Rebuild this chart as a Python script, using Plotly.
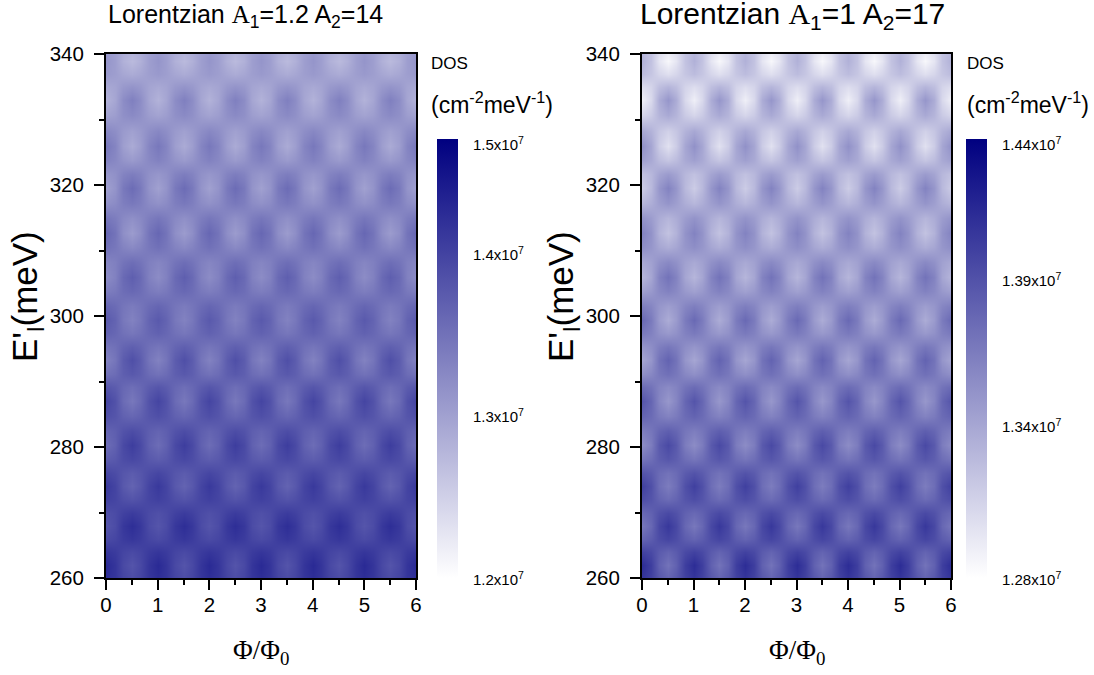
import plotly.graph_objects as go

W, H = 1094, 675
phi = [0, .167, .333, .5, .667, .833, 1, 1.167, 1.333, 1.5, 1.667, 1.833, 2, 2.167, 2.333, 2.5, 2.667, 2.833, 3,
       3.167, 3.333, 3.5, 3.667, 3.833, 4, 4.167, 4.333, 4.5, 4.667, 4.833, 5, 5.167, 5.333, 5.5, 5.667, 5.833, 6]
energy = [260, 262, 264, 266, 268, 270, 272, 274, 276.1, 278.2, 280.3, 282.5, 284.8, 287, 289.1, 291.2, 293.3,
          295.3, 297.4, 299.4, 301.6, 303.8, 306, 308.2, 310.5, 312.7, 315, 317.2, 319.5, 321.7, 323.8, 326,
          328.3, 330.7, 333, 335, 337, 339, 340]

# DOS, in units of 1e4 cm-2 meV-1, one row per energy (bottom to top)
dos_left = [
[1446,1437,1419,1410,1419,1437,1446,1437,1419,1410,1419,1437,1446,1437,1419,1410,1419,1437,1446,1437,1419,1410,1419,1437,1446,1437,1419,1410,1419,1437,1446,1437,1419,1410,1419,1437,1446],
[1451,1438,1414,1401,1414,1438,1451,1438,1414,1401,1414,1438,1451,1438,1414,1401,1414,1438,1451,1438,1414,1401,1414,1438,1451,1438,1414,1401,1414,1438,1451,1438,1414,1401,1414,1438,1451],
[1437,1431,1419,1413,1419,1431,1437,1431,1419,1413,1419,1431,1437,1431,1419,1413,1419,1431,1437,1431,1419,1413,1419,1431,1437,1431,1419,1413,1419,1431,1437,1431,1419,1413,1419,1431,1437],
[1412,1418,1430,1436,1430,1418,1412,1418,1430,1436,1430,1418,1412,1418,1430,1436,1430,1418,1412,1418,1430,1436,1430,1418,1412,1418,1430,1436,1430,1418,1412,1418,1430,1436,1430,1418,1412],
[1400,1411,1435,1446,1435,1411,1400,1411,1435,1446,1435,1411,1400,1411,1435,1446,1435,1411,1400,1411,1435,1446,1435,1411,1400,1411,1435,1446,1435,1411,1400,1411,1435,1446,1435,1411,1400],
[1406,1412,1424,1430,1424,1412,1406,1412,1424,1430,1424,1412,1406,1412,1424,1430,1424,1412,1406,1412,1424,1430,1424,1412,1406,1412,1424,1430,1424,1412,1406,1412,1424,1430,1424,1412,1406],
[1425,1419,1407,1401,1407,1419,1425,1419,1407,1401,1407,1419,1425,1419,1407,1401,1407,1419,1425,1419,1407,1401,1407,1419,1425,1419,1407,1401,1407,1419,1425,1419,1407,1401,1407,1419,1425],
[1433,1420,1396,1383,1396,1420,1433,1420,1396,1383,1396,1420,1433,1420,1396,1383,1396,1420,1433,1420,1396,1383,1396,1420,1433,1420,1396,1383,1396,1420,1433,1420,1396,1383,1396,1420,1433],
[1418,1411,1399,1392,1399,1411,1418,1411,1399,1392,1399,1411,1418,1411,1399,1392,1399,1411,1418,1411,1399,1392,1399,1411,1418,1411,1399,1392,1399,1411,1418,1411,1399,1392,1399,1411,1418],
[1390,1396,1410,1416,1410,1396,1390,1396,1410,1416,1410,1396,1390,1396,1410,1416,1410,1396,1390,1396,1410,1416,1410,1396,1390,1396,1410,1416,1410,1396,1390,1396,1410,1416,1410,1396,1390],
[1372,1386,1414,1428,1414,1386,1372,1386,1414,1428,1414,1386,1372,1386,1414,1428,1414,1386,1372,1386,1414,1428,1414,1386,1372,1386,1414,1428,1414,1386,1372,1386,1414,1428,1414,1386,1372],
[1382,1389,1403,1410,1403,1389,1382,1389,1403,1410,1403,1389,1382,1389,1403,1410,1403,1389,1382,1389,1403,1410,1403,1389,1382,1389,1403,1410,1403,1389,1382,1389,1403,1410,1403,1389,1382],
[1407,1400,1386,1379,1386,1400,1407,1400,1386,1379,1386,1400,1407,1400,1386,1379,1386,1400,1407,1400,1386,1379,1386,1400,1407,1400,1386,1379,1386,1400,1407,1400,1386,1379,1386,1400,1407],
[1419,1404,1374,1359,1374,1404,1419,1404,1374,1359,1374,1404,1419,1404,1374,1359,1374,1404,1419,1404,1374,1359,1374,1404,1419,1404,1374,1359,1374,1404,1419,1404,1374,1359,1374,1404,1419],
[1400,1392,1378,1370,1378,1392,1400,1392,1378,1370,1378,1392,1400,1392,1378,1370,1378,1392,1400,1392,1378,1370,1378,1392,1400,1392,1378,1370,1378,1392,1400,1392,1378,1370,1378,1392,1400],
[1366,1373,1389,1396,1389,1373,1366,1373,1389,1396,1389,1373,1366,1373,1389,1396,1389,1373,1366,1373,1389,1396,1389,1373,1366,1373,1389,1396,1389,1373,1366,1373,1389,1396,1389,1373,1366],
[1347,1362,1392,1407,1392,1362,1347,1362,1392,1407,1392,1362,1347,1362,1392,1407,1392,1362,1347,1362,1392,1407,1392,1362,1347,1362,1392,1407,1392,1362,1347,1362,1392,1407,1392,1362,1347],
[1361,1368,1382,1389,1382,1368,1361,1368,1382,1389,1382,1368,1361,1368,1382,1389,1382,1368,1361,1368,1382,1389,1382,1368,1361,1368,1382,1389,1382,1368,1361,1368,1382,1389,1382,1368,1361],
[1386,1379,1367,1360,1367,1379,1386,1379,1367,1360,1367,1379,1386,1379,1367,1360,1367,1379,1386,1379,1367,1360,1367,1379,1386,1379,1367,1360,1367,1379,1386,1379,1367,1360,1367,1379,1386],
[1395,1383,1359,1347,1359,1383,1395,1383,1359,1347,1359,1383,1395,1383,1359,1347,1359,1383,1395,1383,1359,1347,1359,1383,1395,1383,1359,1347,1359,1383,1395,1383,1359,1347,1359,1383,1395],
[1381,1374,1362,1355,1362,1374,1381,1374,1362,1355,1362,1374,1381,1374,1362,1355,1362,1374,1381,1374,1362,1355,1362,1374,1381,1374,1362,1355,1362,1374,1381,1374,1362,1355,1362,1374,1381],
[1352,1358,1372,1378,1372,1358,1352,1358,1372,1378,1372,1358,1352,1358,1372,1378,1372,1358,1352,1358,1372,1378,1372,1358,1352,1358,1372,1378,1372,1358,1352,1358,1372,1378,1372,1358,1352],
[1335,1348,1376,1389,1376,1348,1335,1348,1376,1389,1376,1348,1335,1348,1376,1389,1376,1348,1335,1348,1376,1389,1376,1348,1335,1348,1376,1389,1376,1348,1335,1348,1376,1389,1376,1348,1335],
[1343,1350,1364,1371,1364,1350,1343,1350,1364,1371,1364,1350,1343,1350,1364,1371,1364,1350,1343,1350,1364,1371,1364,1350,1343,1350,1364,1371,1364,1350,1343,1350,1364,1371,1364,1350,1343],
[1368,1360,1346,1338,1346,1360,1368,1360,1346,1338,1346,1360,1368,1360,1346,1338,1346,1360,1368,1360,1346,1338,1346,1360,1368,1360,1346,1338,1346,1360,1368,1360,1346,1338,1346,1360,1368],
[1379,1364,1332,1317,1332,1364,1379,1364,1332,1317,1332,1364,1379,1364,1332,1317,1332,1364,1379,1364,1332,1317,1332,1364,1379,1364,1332,1317,1332,1364,1379,1364,1332,1317,1332,1364,1379],
[1361,1353,1339,1331,1339,1353,1361,1353,1339,1331,1339,1353,1361,1353,1339,1331,1339,1353,1361,1353,1339,1331,1339,1353,1361,1353,1339,1331,1339,1353,1361,1353,1339,1331,1339,1353,1361],
[1329,1336,1352,1359,1352,1336,1329,1336,1352,1359,1352,1336,1329,1336,1352,1359,1352,1336,1329,1336,1352,1359,1352,1336,1329,1336,1352,1359,1352,1336,1329,1336,1352,1359,1352,1336,1329],
[1311,1326,1358,1373,1358,1326,1311,1326,1358,1373,1358,1326,1311,1326,1358,1373,1358,1326,1311,1326,1358,1373,1358,1326,1311,1326,1358,1373,1358,1326,1311,1326,1358,1373,1358,1326,1311],
[1323,1330,1346,1353,1346,1330,1323,1330,1346,1353,1346,1330,1323,1330,1346,1353,1346,1330,1323,1330,1346,1353,1346,1330,1323,1330,1346,1353,1346,1330,1323,1330,1346,1353,1346,1330,1323],
[1348,1340,1326,1318,1326,1340,1348,1340,1326,1318,1326,1340,1348,1340,1326,1318,1326,1340,1348,1340,1326,1318,1326,1340,1348,1340,1326,1318,1326,1340,1348,1340,1326,1318,1326,1340,1348],
[1359,1344,1314,1299,1314,1344,1359,1344,1314,1299,1314,1344,1359,1344,1314,1299,1314,1344,1359,1344,1314,1299,1314,1344,1359,1344,1314,1299,1314,1344,1359,1344,1314,1299,1314,1344,1359],
[1341,1333,1319,1311,1319,1333,1341,1333,1319,1311,1319,1333,1341,1333,1319,1311,1319,1333,1341,1333,1319,1311,1319,1333,1341,1333,1319,1311,1319,1333,1341,1333,1319,1311,1319,1333,1341],
[1308,1315,1331,1338,1331,1315,1308,1315,1331,1338,1331,1315,1308,1315,1331,1338,1331,1315,1308,1315,1331,1338,1331,1315,1308,1315,1331,1338,1331,1315,1308,1315,1331,1338,1331,1315,1308],
[1290,1305,1335,1350,1335,1305,1290,1305,1335,1350,1335,1305,1290,1305,1335,1350,1335,1305,1290,1305,1335,1350,1335,1305,1290,1305,1335,1350,1335,1305,1290,1305,1335,1350,1335,1305,1290],
[1301,1307,1321,1327,1321,1307,1301,1307,1321,1327,1321,1307,1301,1307,1321,1327,1321,1307,1301,1307,1321,1327,1321,1307,1301,1307,1321,1327,1321,1307,1301,1307,1321,1327,1321,1307,1301],
[1320,1314,1304,1298,1304,1314,1320,1314,1304,1298,1304,1314,1320,1314,1304,1298,1304,1314,1320,1314,1304,1298,1304,1314,1320,1314,1304,1298,1304,1314,1320,1314,1304,1298,1304,1314,1320],
[1325,1314,1292,1281,1292,1314,1325,1314,1292,1281,1292,1314,1325,1314,1292,1281,1292,1314,1325,1314,1292,1281,1292,1314,1325,1314,1292,1281,1292,1314,1325,1314,1292,1281,1292,1314,1325],
[1322,1313,1297,1288,1297,1313,1322,1313,1297,1288,1297,1313,1322,1313,1297,1288,1297,1313,1322,1313,1297,1288,1297,1313,1322,1313,1297,1288,1297,1313,1322,1313,1297,1288,1297,1313,1322],
]
dos_right = [
[1407,1399,1385,1377,1385,1399,1407,1399,1385,1377,1385,1399,1407,1399,1385,1377,1385,1399,1407,1399,1385,1377,1385,1399,1407,1399,1385,1377,1385,1399,1407,1399,1385,1377,1385,1399,1407],
[1412,1401,1379,1368,1379,1401,1412,1401,1379,1368,1379,1401,1412,1401,1379,1368,1379,1401,1412,1401,1379,1368,1379,1401,1412,1401,1379,1368,1379,1401,1412,1401,1379,1368,1379,1401,1412],
[1399,1394,1383,1377,1383,1394,1399,1394,1383,1377,1383,1394,1399,1394,1383,1377,1383,1394,1399,1394,1383,1377,1383,1394,1399,1394,1383,1377,1383,1394,1399,1394,1383,1377,1383,1394,1399],
[1377,1382,1392,1397,1392,1382,1377,1382,1392,1397,1392,1382,1377,1382,1392,1397,1392,1382,1377,1382,1392,1397,1392,1382,1377,1382,1392,1397,1392,1382,1377,1382,1392,1397,1392,1382,1377],
[1365,1375,1395,1405,1395,1375,1365,1375,1395,1405,1395,1375,1365,1375,1395,1405,1395,1375,1365,1375,1395,1405,1395,1375,1365,1375,1395,1405,1395,1375,1365,1375,1395,1405,1395,1375,1365],
[1374,1379,1389,1394,1389,1379,1374,1379,1389,1394,1389,1379,1374,1379,1389,1394,1389,1379,1374,1379,1389,1394,1389,1379,1374,1379,1389,1394,1389,1379,1374,1379,1389,1394,1389,1379,1374],
[1392,1387,1377,1372,1377,1387,1392,1387,1377,1372,1377,1387,1392,1387,1377,1372,1377,1387,1392,1387,1377,1372,1377,1387,1392,1387,1377,1372,1377,1387,1392,1387,1377,1372,1377,1387,1392],
[1400,1390,1371,1362,1371,1390,1400,1390,1371,1362,1371,1390,1400,1390,1371,1362,1371,1390,1400,1390,1371,1362,1371,1390,1400,1390,1371,1362,1371,1390,1400,1390,1371,1362,1371,1390,1400],
[1388,1383,1373,1368,1373,1383,1388,1383,1373,1368,1373,1383,1388,1383,1373,1368,1373,1383,1388,1383,1373,1368,1373,1383,1388,1383,1373,1368,1373,1383,1388,1383,1373,1368,1373,1383,1388],
[1366,1371,1381,1386,1381,1371,1366,1371,1381,1386,1381,1371,1366,1371,1381,1386,1381,1371,1366,1371,1381,1386,1381,1371,1366,1371,1381,1386,1381,1371,1366,1371,1381,1386,1381,1371,1366],
[1352,1362,1384,1394,1384,1362,1352,1362,1384,1394,1384,1362,1352,1362,1384,1394,1384,1362,1352,1362,1384,1394,1384,1362,1352,1362,1384,1394,1384,1362,1352,1362,1384,1394,1384,1362,1352],
[1361,1366,1376,1381,1376,1366,1361,1366,1376,1381,1376,1366,1361,1366,1376,1381,1376,1366,1361,1366,1376,1381,1376,1366,1361,1366,1376,1381,1376,1366,1361,1366,1376,1381,1376,1366,1361],
[1378,1373,1363,1358,1363,1373,1378,1373,1363,1358,1363,1373,1378,1373,1363,1358,1363,1373,1378,1373,1363,1358,1363,1373,1378,1373,1363,1358,1363,1373,1378,1373,1363,1358,1363,1373,1378],
[1387,1376,1356,1345,1356,1376,1387,1376,1356,1345,1356,1376,1387,1376,1356,1345,1356,1376,1387,1376,1356,1345,1356,1376,1387,1376,1356,1345,1356,1376,1387,1376,1356,1345,1356,1376,1387],
[1373,1368,1358,1353,1358,1368,1373,1368,1358,1353,1358,1368,1373,1368,1358,1353,1358,1368,1373,1368,1358,1353,1358,1368,1373,1368,1358,1353,1358,1368,1373,1368,1358,1353,1358,1368,1373],
[1350,1355,1365,1370,1365,1355,1350,1355,1365,1370,1365,1355,1350,1355,1365,1370,1365,1355,1350,1355,1365,1370,1365,1355,1350,1355,1365,1370,1365,1355,1350,1355,1365,1370,1365,1355,1350],
[1336,1346,1368,1378,1368,1346,1336,1346,1368,1378,1368,1346,1336,1346,1368,1378,1368,1346,1336,1346,1368,1378,1368,1346,1336,1346,1368,1378,1368,1346,1336,1346,1368,1378,1368,1346,1336],
[1346,1351,1361,1366,1361,1351,1346,1351,1361,1366,1361,1351,1346,1351,1361,1366,1361,1351,1346,1351,1361,1366,1361,1351,1346,1351,1361,1366,1361,1351,1346,1351,1361,1366,1361,1351,1346],
[1364,1359,1349,1344,1349,1359,1364,1359,1349,1344,1349,1359,1364,1359,1349,1344,1349,1359,1364,1359,1349,1344,1349,1359,1364,1359,1349,1344,1349,1359,1364,1359,1349,1344,1349,1359,1364],
[1374,1363,1343,1332,1343,1363,1374,1363,1343,1332,1343,1363,1374,1363,1343,1332,1343,1363,1374,1363,1343,1332,1343,1363,1374,1363,1343,1332,1343,1363,1374,1363,1343,1332,1343,1363,1374],
[1361,1356,1346,1341,1346,1356,1361,1356,1346,1341,1346,1356,1361,1356,1346,1341,1346,1356,1361,1356,1346,1341,1346,1356,1361,1356,1346,1341,1346,1356,1361,1356,1346,1341,1346,1356,1361],
[1339,1344,1354,1359,1354,1344,1339,1344,1354,1359,1354,1344,1339,1344,1354,1359,1354,1344,1339,1344,1354,1359,1354,1344,1339,1344,1354,1359,1354,1344,1339,1344,1354,1359,1354,1344,1339],
[1326,1336,1358,1368,1358,1336,1326,1336,1358,1368,1358,1336,1326,1336,1358,1368,1358,1336,1326,1336,1358,1368,1358,1336,1326,1336,1358,1368,1358,1336,1326,1336,1358,1368,1358,1336,1326],
[1334,1339,1349,1354,1349,1339,1334,1339,1349,1354,1349,1339,1334,1339,1349,1354,1349,1339,1334,1339,1349,1354,1349,1339,1334,1339,1349,1354,1349,1339,1334,1339,1349,1354,1349,1339,1334],
[1351,1346,1336,1331,1336,1346,1351,1346,1336,1331,1336,1346,1351,1346,1336,1331,1336,1346,1351,1346,1336,1331,1336,1346,1351,1346,1336,1331,1336,1346,1351,1346,1336,1331,1336,1346,1351],
[1358,1348,1328,1318,1328,1348,1358,1348,1328,1318,1328,1348,1358,1348,1328,1318,1328,1348,1358,1348,1328,1318,1328,1348,1358,1348,1328,1318,1328,1348,1358,1348,1328,1318,1328,1348,1358],
[1348,1342,1332,1326,1332,1342,1348,1342,1332,1326,1332,1342,1348,1342,1332,1326,1332,1342,1348,1342,1332,1326,1332,1342,1348,1342,1332,1326,1332,1342,1348,1342,1332,1326,1332,1342,1348],
[1325,1331,1341,1347,1341,1331,1325,1331,1341,1347,1341,1331,1325,1331,1341,1347,1341,1331,1325,1331,1341,1347,1341,1331,1325,1331,1341,1347,1341,1331,1325,1331,1341,1347,1341,1331,1325],
[1312,1324,1346,1358,1346,1324,1312,1324,1346,1358,1346,1324,1312,1324,1346,1358,1346,1324,1312,1324,1346,1358,1346,1324,1312,1324,1346,1358,1346,1324,1312,1324,1346,1358,1346,1324,1312],
[1319,1325,1337,1343,1337,1325,1319,1325,1337,1343,1337,1325,1319,1325,1337,1343,1337,1325,1319,1325,1337,1343,1337,1325,1319,1325,1337,1343,1337,1325,1319,1325,1337,1343,1337,1325,1319],
[1340,1334,1322,1316,1322,1334,1340,1334,1322,1316,1322,1334,1340,1334,1322,1316,1322,1334,1340,1334,1322,1316,1322,1334,1340,1334,1322,1316,1322,1334,1340,1334,1322,1316,1322,1334,1340],
[1349,1336,1312,1299,1312,1336,1349,1336,1312,1299,1312,1336,1349,1336,1312,1299,1312,1336,1349,1336,1312,1299,1312,1336,1349,1336,1312,1299,1312,1336,1349,1336,1312,1299,1312,1336,1349],
[1335,1328,1316,1309,1316,1328,1335,1328,1316,1309,1316,1328,1335,1328,1316,1309,1316,1328,1335,1328,1316,1309,1316,1328,1335,1328,1316,1309,1316,1328,1335,1328,1316,1309,1316,1328,1335],
[1306,1313,1327,1334,1327,1313,1306,1313,1327,1334,1327,1313,1306,1313,1327,1334,1327,1313,1306,1313,1327,1334,1327,1313,1306,1313,1327,1334,1327,1313,1306,1313,1327,1334,1327,1313,1306],
[1290,1304,1332,1346,1332,1304,1290,1304,1332,1346,1332,1304,1290,1304,1332,1346,1332,1304,1290,1304,1332,1346,1332,1304,1290,1304,1332,1346,1332,1304,1290,1304,1332,1346,1332,1304,1290],
[1301,1307,1321,1327,1321,1307,1301,1307,1321,1327,1321,1307,1301,1307,1321,1327,1321,1307,1301,1307,1321,1327,1321,1307,1301,1307,1321,1327,1321,1307,1301,1307,1321,1327,1321,1307,1301],
[1322,1316,1306,1300,1306,1316,1322,1316,1306,1300,1306,1316,1322,1316,1306,1300,1306,1316,1322,1316,1306,1300,1306,1316,1322,1316,1306,1300,1306,1316,1322,1316,1306,1300,1306,1316,1322],
[1329,1318,1296,1285,1296,1318,1329,1318,1296,1285,1296,1318,1329,1318,1296,1285,1296,1318,1329,1318,1296,1285,1296,1318,1329,1318,1296,1285,1296,1318,1329,1318,1296,1285,1296,1318,1329],
[1327,1318,1300,1291,1300,1318,1327,1318,1300,1291,1300,1318,1327,1318,1300,1291,1300,1318,1327,1318,1300,1291,1300,1318,1327,1318,1300,1291,1300,1318,1327,1318,1300,1291,1300,1318,1327],
]
range_left = [1200, 1500]
range_right = [1280, 1440]
bar_labels_left = ["1.5", "1.4", "1.3", "1.2"]
bar_labels_right = ["1.44", "1.39", "1.34", "1.28"]
bar_label_py_left = [143, 253, 415, 578]
bar_label_py_right = [143, 279, 426, 578]
titles = ["Lorentzian <span style='font-family:Liberation Serif'>A</span><sub>1</sub>=1.2 A<sub>2</sub>=14",
          "Lorentzian <span style='font-family:Liberation Serif'>A</span><sub>1</sub>=1 A<sub>2</sub>=17"]
title_sizes = [25, 30]

SANS = "Liberation Sans"
SERIF = "Liberation Serif"
scale = [[0, "#ffffff"], [1, "#000080"]]
panels = [
    dict(x0=106, x1=416, bar=437, text=429, lab=471, z=dos_left, r=range_left, lb=bar_labels_left, py=bar_label_py_left, tx=246, xt=261, yt=27),
    dict(x0=642, x1=951, bar=966, text=965, lab=1000, z=dos_right, r=range_right, lb=bar_labels_right, py=bar_label_py_right, tx=792, xt=797, yt=563),
]

def px(v):
    return v / W
def py(v):
    return 1 - v / H

fig = go.Figure()
ann = []
def note(text, x, y, size, family=SANS, anchor="left", angle=0):
    ann.append(dict(text=text, x=px(x), y=py(y), xref="paper", yref="paper", xanchor=anchor, yanchor="middle",
                    showarrow=False, textangle=angle, font=dict(family=family, size=size, color="black")))

layout_axes = {}
for i, p in enumerate(panels):
    n = "" if i == 0 else str(i + 1)
    fig.add_trace(go.Heatmap(
        x=phi, y=energy, z=p["z"], zmin=p["r"][0], zmax=p["r"][1], zsmooth="best", colorscale=scale,
        xaxis="x" + n, yaxis="y" + n,
        colorbar=dict(x=px(p["bar"]), xanchor="left", y=py(139), yanchor="top", lenmode="pixels", len=439,
                      thicknessmode="pixels", thickness=21, outlinewidth=0, xpad=0, ypad=0,
                      ticks="", showticklabels=False),
    ))
    common = dict(showline=True, linecolor="black", linewidth=2, mirror=True, ticks="outside", tickcolor="black",
                  tickwidth=2, ticklen=10, showgrid=False, zeroline=False,
                  tickfont=dict(family=SANS, size=20.5, color="black"))
    layout_axes["xaxis" + n] = dict(common, domain=[px(p["x0"]), px(p["x1"])], range=[0, 6], dtick=1, anchor="y" + n,
                                    ticklabelstandoff=-3,
                                    minor=dict(dtick=0.5, ticks="outside", ticklen=5, tickwidth=2, tickcolor="black"))
    layout_axes["yaxis" + n] = dict(common, domain=[py(578), py(54)], range=[260, 340], dtick=20, anchor="x" + n,
                                    ticklabelstandoff=6,
                                    minor=dict(dtick=10, ticks="outside", ticklen=5, tickwidth=2, tickcolor="black"))
    note(titles[i], p["tx"], 16, title_sizes[i], anchor="center")
    note("Φ/Φ<sub>0</sub>", p["xt"], 652, 27, family=SERIF, anchor="center")
    note("E'<sub>l</sub>(meV)", p["yt"], 297, 35, anchor="center", angle=-90)
    note("DOS", p["text"], 63, 17)
    note("(cm<sup>-2</sup>meV<sup>-1</sup>)", p["text"], 103, 23)
    for lab, y in zip(p["lb"], p["py"]):
        note(lab + "x10<sup>7</sup>", p["lab"], y, 15)

fig.update_layout(width=W, height=H, margin=dict(l=0, r=0, t=0, b=0, autoexpand=False), paper_bgcolor="white",
                  plot_bgcolor="white", annotations=ann, showlegend=False, **layout_axes)
fig.write_html("out.html", config=dict(displayModeBar=False), post_script="document.body.style.margin='0';")
